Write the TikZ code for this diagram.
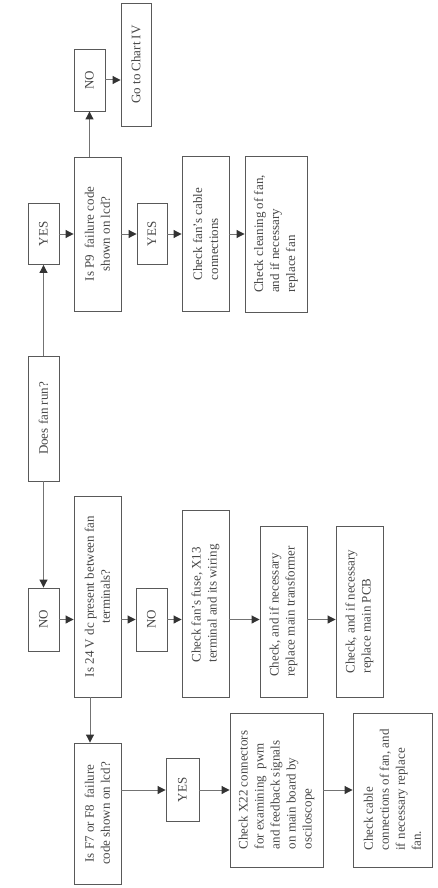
\documentclass[tikz,border=0pt]{standalone}
\usepackage{fontspec}
\setmainfont{Liberation Serif}
\usetikzlibrary{arrows.meta}
\definecolor{boxc}{gray}{0.35}
\definecolor{linec}{gray}{0.45}
\definecolor{txtc}{gray}{0.28}
\definecolor{tipc}{gray}{0.2}
\newcommand{\chartfont}{\fontsize{13}{16}\selectfont}
\tikzset{
  box/.style={draw=boxc, line width=0.9pt, rotate=90, inner sep=2pt,
    font=\chartfont, text=txtc, align=center},
  lbox/.style={box, align=left},
  arr/.style={draw=linec, line width=1pt,
    -{Triangle[length=8pt,width=8pt,color=tipc]}},
}
\begin{document}
\begin{tikzpicture}[x=1pt,y=-1pt]
\useasboundingbox (0,0) rectangle (438,888);
% top-level question
\node[box, minimum width=125pt, minimum height=31pt] (run) at (43.5,418.5) {Does fan run?};
% YES branch
\node[box, minimum width=61pt, minimum height=31pt] (yes1) at (43.5,234) {YES};
\node[box, minimum width=154pt, minimum height=47pt] (p9) at (97.5,234) {Is P9\ \ failure code\\shown on lcd?};
\node[box, minimum width=62pt, minimum height=31pt] (no1top) at (89.5,80) {NO};
\node[box, minimum width=123pt, minimum height=30pt] (chart) at (136,64.5) {Go to Chart IV};
\node[box, minimum width=61pt, minimum height=30pt] (yes2) at (152,234) {YES};
\node[lbox, minimum width=155pt, minimum height=47pt] (cable) at (205.5,234) {Check fan's cable\\connections};
\node[lbox, minimum width=156pt, minimum height=62pt] (clean) at (276,234) {Check cleaning of fan,\\and if necessary\\replace fan};
% NO branch
\node[box, minimum width=63pt, minimum height=31pt] (noL) at (43.5,619.5) {NO};
\node[box, minimum width=201pt, minimum height=47pt] (v24) at (97.5,596.5) {Is 24 V dc present between fan\\terminals?};
\node[box, minimum width=63pt, minimum height=31pt] (noL2) at (151.5,619.5) {NO};
\node[lbox, minimum width=187pt, minimum height=47pt] (fuse) at (205.5,603.5) {Check fan's fuse, X13\\terminal and its wiring};
\node[lbox, minimum width=171pt, minimum height=47pt] (trans) at (283.5,611.5) {Check, and if necessary\\replace main transformer};
\node[lbox, minimum width=171pt, minimum height=47pt] (pcb) at (359.5,611.5) {Check, and if necessary\\replace main PCB};
\node[box, minimum width=141pt, minimum height=47pt] (f78) at (97.5,813.5) {Is F7 or F8\ \ failure\\code shown on lcd?};
\node[box, minimum width=63pt, minimum height=33pt] (yes3) at (182.5,790) {YES};
\node[lbox, minimum width=154pt, minimum height=93pt] (x22) at (276.5,790) {Check X22 connectors\\for examining\ \ pwm\\and feedback signals\\on main board by\\osciloscope};
\node[lbox, minimum width=154pt, minimum height=79pt] (cable2) at (392.5,790) {Check cable\\connections of fan, and\\if necessary replace\\fan.};
% helper coordinates for off-centre rows
\coordinate (lv) at (0,619.5);
\coordinate (lb) at (0,790);
% connectors
\draw[arr] (run.east) -- (yes1.west);
\draw[arr] (run.west) -- (noL.east);
\draw[arr] (yes1.south) -- (p9.north);
\draw[arr] (no1top.west |- p9.east) -- (no1top.west);
\draw[arr] (no1top.south) -- (no1top.south -| chart.north);
\draw[arr] (p9.south) -- (yes2.north);
\draw[arr] (yes2.south) -- (cable.north);
\draw[arr] (cable.south) -- (clean.north);
\draw[arr] (noL.south) -- (v24.north |- lv);
\draw[arr] (v24.south |- lv) -- (noL2.north);
\draw[arr] (noL2.south) -- (fuse.north |- lv);
\draw[arr] (fuse.south |- lv) -- (trans.north |- lv);
\draw[arr] (trans.south |- lv) -- (pcb.north |- lv);
\draw[arr] ([xshift=-7.5pt]v24.west) -- ([xshift=-7.5pt]f78.east);
\draw[arr] (f78.south |- lb) -- (yes3.north |- lb);
\draw[arr] (yes3.south |- lb) -- (x22.north |- lb);
\draw[arr] (x22.south |- lb) -- (cable2.north |- lb);
\end{tikzpicture}
\end{document}
